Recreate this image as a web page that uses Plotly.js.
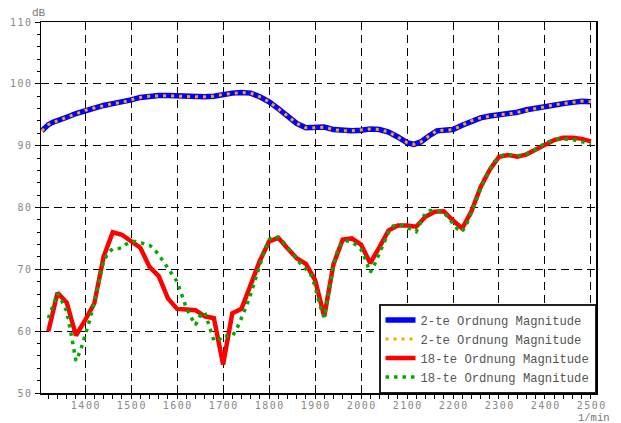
<!DOCTYPE html>
<html>
<head>
<meta charset="utf-8">
<script src="https://cdn.plot.ly/plotly-3.0.1.min.js"></script>
<style>
html,body{margin:0;padding:0;background:#fff;}
</style>
</head>
<body>
<div id="chart" style="width:621px;height:423px;"></div>
<script>
// 2nd order magnitude (blue solid / orange dotted)
var rpm2 = [1306,1320,1330,1340,1360,1380,1400,1420,1440,1460,1480,1500,1520,1540,1560,1580,1600,1620,1640,1660,1680,1700,1720,1740,1760,1780,1800,1820,1840,1860,1880,1900,1920,1940,1960,1980,2000,2020,2040,2060,2080,2100,2115,2130,2150,2165,2180,2200,2220,2240,2260,2280,2300,2320,2340,2360,2380,2400,2420,2440,2460,2480,2500];
var mag2 = [92.4,93.4,93.8,94.0,94.6,95.2,95.7,96.1,96.5,96.8,97.0,97.4,97.8,98.0,98.1,98.1,98.0,97.9,97.9,97.9,98.0,98.3,98.5,98.6,98.5,97.9,97.1,96.0,94.8,93.6,92.9,92.9,93.0,92.6,92.4,92.4,92.5,92.7,92.6,92.2,91.4,90.5,90.2,90.6,91.7,92.4,92.5,92.6,93.3,94.0,94.5,94.8,95.0,95.1,95.4,95.8,96.1,96.4,96.6,96.8,97.0,97.2,97.1];
var mag2b = mag2.slice();

// 18th order magnitude (red solid)
var rpm18a = [1320,1340,1360,1380,1400,1420,1440,1460,1480,1500,1520,1540,1560,1580,1600,1620,1640,1660,1680,1700,1720,1740,1760,1780,1800,1820,1840,1860,1880,1900,1920,1940,1960,1980,2000,2020,2040,2060,2080,2100,2120,2140,2160,2180,2200,2220,2240,2260,2280,2300,2320,2340,2360,2380,2400,2420,2440,2460,2480,2500];
var mag18a = [60.0,66.2,64.6,59.3,61.8,64.5,72.0,76.0,75.6,74.6,73.5,70.4,68.9,65.3,63.6,63.5,63.4,62.4,62.1,54.6,62.9,63.6,67.3,71.4,74.5,75.1,73.4,71.8,70.9,68.3,62.4,70.8,74.8,75.0,74.0,71.0,73.6,76.3,77.1,77.1,76.9,78.5,79.3,79.4,77.9,76.6,79.4,83.3,86.1,88.2,88.5,88.2,88.6,89.4,90.3,90.9,91.3,91.3,91.1,90.7];

// 18th order magnitude (green dotted)
var rpm18b = [1320,1330,1340,1350,1360,1370,1380,1390,1400,1410,1420,1430,1440,1450,1460,1470,1480,1490,1500,1510,1520,1530,1540,1550,1560,1570,1580,1590,1600,1610,1620,1630,1640,1650,1660,1670,1680,1690,1700,1710,1720,1730,1740,1750,1760,1770,1780,1790,1800,1810,1820,1830,1840,1850,1860,1870,1880,1890,1900,1910,1920,1930,1940,1950,1960,1970,1980,1990,2000,2010,2020,2030,2040,2050,2060,2070,2080,2090,2100,2110,2120,2130,2140,2150,2160,2170,2180,2190,2200,2210,2220,2230,2240,2250,2260,2270,2280,2290,2300,2310,2320,2330,2340,2350,2360,2370,2380,2390,2400,2410,2420,2430,2440,2450,2460,2470,2480,2490,2500];
var mag18b = [62.1,64.3,66.1,64.8,63.2,59.3,55.2,56.9,59.3,61.8,64.8,68.2,71.3,72.7,73.3,73.3,73.5,74.1,74.5,74.5,74.3,74.1,73.9,73.3,72.4,71.3,70.2,69.2,68.0,65.9,63.8,62.3,61.0,62.5,63.1,60.8,58.5,58.5,59.3,59.2,59.2,60.4,62.0,63.9,66.0,68.3,70.8,73.0,74.8,75.4,75.1,74.5,73.6,72.5,71.6,70.8,70.1,69.3,67.3,64.3,62.2,66.0,70.5,73.4,74.4,74.6,74.4,73.9,73.2,71.5,69.5,70.9,72.5,74.4,76.0,77.0,77.3,77.1,76.8,76.5,76.1,77.6,79.1,79.5,79.5,79.4,79.2,78.4,77.4,76.5,76.1,77.4,79.1,81.0,83.1,84.7,86.2,87.4,88.1,88.5,88.5,88.4,88.4,88.4,88.7,89.0,89.4,89.9,90.4,90.7,90.9,91.1,91.1,91.1,91.0,90.8,90.6,90.4,90.3];

var names = ["2-te Ordnung Magnitude","2-te Ordnung Magnitude","18-te Ordnung Magnitude","18-te Ordnung Magnitude"];
var xTicks = [1400,1500,1600,1700,1800,1900,2000,2100,2200,2300,2400,2500];
var yTicks = [50,60,70,80,90,100,110];

var traces = [
  {x: rpm2, y: mag2, name: names[0], type: 'scatter', mode: 'lines',
   line: {color: '#0000ff', width: 5.5}},
  {x: rpm2, y: mag2b, name: names[1], type: 'scatter', mode: 'lines',
   line: {color: '#ffa500', width: 3, dash: '3px,5px'}},
  {x: rpm18a, y: mag18a, name: names[2], type: 'scatter', mode: 'lines',
   line: {color: '#ff0000', width: 4.5}},
  {x: rpm18b, y: mag18b, name: names[3], type: 'scatter', mode: 'lines',
   line: {color: '#00aa00', width: 3.5, dash: '3.5px,5px'}}
];

var tickFont = {family: 'DejaVu Sans Mono', size: 10, color: '#888888'};

var layout = {
  width: 621, height: 423,
  margin: {l: 41, r: 25, t: 22, b: 30, pad: 0},
  paper_bgcolor: '#fff', plot_bgcolor: '#fff',
  showlegend: true,
  xaxis: {
    range: [1304, 2511], tickmode: 'array', tickvals: xTicks,
    ticktext: xTicks.map(String),
    showgrid: true, gridcolor: '#000', gridwidth: 1, griddash: '8px,5px',
    zeroline: false, showline: true, linecolor: '#000', linewidth: 1.5, mirror: true,
    ticks: 'inside', ticklen: 8, tickcolor: '#000', tickwidth: 1,
    minor: {tick0: 1300, dtick: 20, ticks: 'outside', ticklen: 4, tickcolor: '#000', tickwidth: 1, showgrid: false},
    tickfont: tickFont, ticklabelstandoff: 2
  },
  xaxis2: {
    overlaying: 'x', anchor: 'y', side: 'bottom', matches: 'x',
    range: [1304, 2511], tickmode: 'array', tickvals: xTicks,
    showticklabels: false, showgrid: false, zeroline: false, showline: false,
    ticks: 'outside', ticklen: 5, tickcolor: '#000', tickwidth: 1
  },
  yaxis: {
    range: [50, 110], tickmode: 'array', tickvals: yTicks,
    ticktext: yTicks.map(String),
    showgrid: true, gridcolor: '#000', gridwidth: 1, griddash: '8px,5px',
    zeroline: false, showline: true, linecolor: '#000', linewidth: 1.5, mirror: true,
    ticks: 'outside', ticklen: 5, tickcolor: '#000', tickwidth: 1,
    minor: {tick0: 50, dtick: 2, ticks: 'outside', ticklen: 3, tickcolor: '#000', tickwidth: 1, showgrid: false},
    tickfont: tickFont, ticklabelstandoff: 0
  },
  legend: {
    x: 1, y: 0, xanchor: 'right', yanchor: 'bottom',
    bgcolor: '#fff', bordercolor: '#222', borderwidth: 1.5,
    font: {family: 'Liberation Mono', size: 12.2, color: '#555'},
    itemwidth: 30, tracegroupgap: 0
  },
  annotations: [
    {text: 'dB', xref: 'paper', yref: 'paper', x: -0.004, y: 1.025,
     xanchor: 'center', yanchor: 'middle', showarrow: false,
     font: {family: 'Liberation Mono', size: 11, color: '#777'}},
    {text: '1/min', xref: 'paper', yref: 'paper', x: 0.9964, y: -0.067,
     xanchor: 'center', yanchor: 'middle', showarrow: false,
     font: {family: 'Liberation Mono', size: 10.5, color: '#777'}}
  ]
};

Plotly.newPlot('chart', traces, layout, {displayModeBar: false, staticPlot: true}).then(function(gd){
  var sel = gd.querySelectorAll('g.xtick text, g.ytick text');
  sel.forEach(function(t){
    t.style.letterSpacing = '1.5px';
  });
  // keep x labels centred after spacing
  gd.querySelectorAll('g.xtick text').forEach(function(t){
    var x = parseFloat(t.getAttribute('x')) || 0;
    t.setAttribute('x', x + 0.75);
  });
});
</script>
</body>
</html>
